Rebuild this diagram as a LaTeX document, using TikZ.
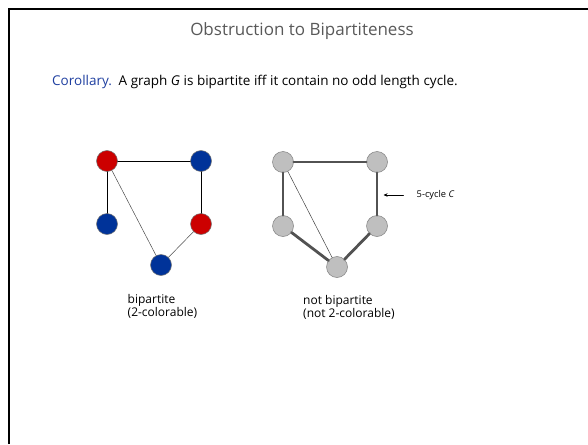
\documentclass[tikz,border=0pt]{standalone}
\usepackage{fontspec}
\setmainfont{Open Sans}
\usetikzlibrary{arrows.meta}
\definecolor{vred}{HTML}{CC0000}
\definecolor{vblue}{HTML}{003399}
\definecolor{corblue}{HTML}{1F3FA0}

\begin{document}
\begin{tikzpicture}[x=1pt,y=-1pt,>={Stealth[length=4pt,width=3.5pt]},line cap=round,
  vtx/.style={circle,minimum size=21pt,inner sep=0pt,draw=black!55,line width=0.5pt},
  redv/.style={vtx,fill=vred},
  bluev/.style={vtx,fill=vblue},
  grayv/.style={vtx,fill=black!25,draw=black!50},
  txt/.style={inner sep=0pt,align=left,font=\fontsize{12}{13}\selectfont}]
\useasboundingbox (0,0) rectangle (588,444);
\draw[line width=2.6pt,line cap=butt] (9,444) -- (9,9) -- (588,9);
% heading
\node[text=black!65,font=\fontsize{17}{20}\selectfont] (title) at (302,31) {Obstruction to Bipartiteness};
\node[anchor=west,inner sep=0pt,font=\fontsize{13.5}{16}\selectfont] (cor) at (52,82)
  {\textcolor{corblue}{Corollary.}\enspace A graph \textit{G} is bipartite iff it contain no odd length cycle.};
% bipartite graph
\node[redv]  (a1) at (107,161) {};
\node[bluev] (a2) at (201,161) {};
\node[bluev] (a3) at (107,224) {};
\node[redv]  (a4) at (201,224) {};
\node[bluev] (a5) at (161,265) {};
\draw[line width=0.9pt] (a1) -- (a2);
\draw[line width=0.9pt] (a1) -- (a3);
\draw[line width=0.9pt] (a2) -- (a4);
\draw[black!70,line width=0.5pt] (a1) -- (a5);
\draw[black!70,line width=0.5pt] (a4) -- (a5);
\node[txt,anchor=north west] (lbl1) at (127.5,294.5) {bipartite\\(2-colorable)};
% odd cycle
\node[grayv] (b1) at (283,162) {};
\node[grayv] (b2) at (377,162) {};
\node[grayv] (b3) at (283,226) {};
\node[grayv] (b4) at (377,226) {};
\node[grayv] (b5) at (337,267) {};
\draw[black!68,line width=2.8pt] (b1) -- (b2);
\draw[black!68,line width=2.8pt] (b2) -- (b4);
\draw[black!68,line width=2.8pt] (b4) -- (b5);
\draw[black!68,line width=2.8pt] (b5) -- (b3);
\draw[black!68,line width=2.8pt] (b3) -- (b1);
\draw[black!75,line width=0.5pt] (b1) -- (b5);
\node[txt,anchor=north west] (lbl2) at (303,295.5) {not bipartite\\(not 2-colorable)};
\node[txt,anchor=west,font=\fontsize{9.3}{11}\selectfont] (cyc) at (416.5,195) {5-cycle \textit{C}};
\coordinate (tip) at (383.5,195);
\draw[->,line width=0.6pt,shorten <=13pt] (cyc.west) -- (tip);
\end{tikzpicture}
\end{document}
